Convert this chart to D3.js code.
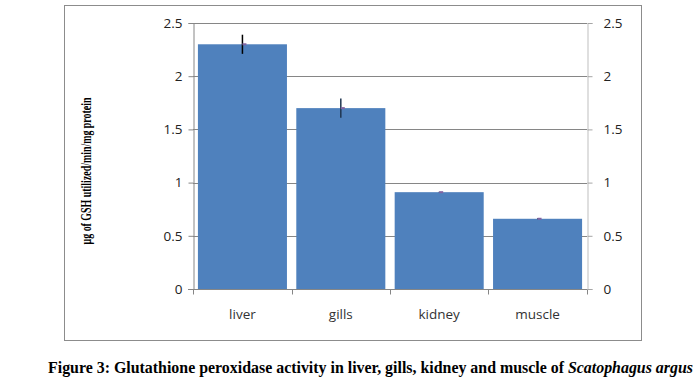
<!DOCTYPE html>
<html><head><meta charset="utf-8">
<script src="https://cdn.jsdelivr.net/npm/d3@7"></script>
<style>body{margin:0;background:#fff}svg{display:block}</style>
</head><body>
<svg id="c" width="699" height="390"></svg>
<script>
const categories = ["liver", "gills", "kidney", "muscle"];
const values = [2.30, 1.70, 0.91, 0.66];
const errors = [0.09, 0.09, 0.005, 0.005];
const yTicks = [0, 0.5, 1, 1.5, 2, 2.5];
const yTitle = "µg of GSH utilized/min/mg protein";
const caption1 = "Figure 3: Glutathione peroxidase activity in liver, gills, kidney and muscle of ";
const caption2 = "Scatophagus argus";

const svg = d3.select("#c");
const L = 193, R = 587, T = 23, B = 289;
const x = d3.scaleBand().domain(categories).range([L, R]).paddingInner(0.095).paddingOuter(0.05);
const y = d3.scaleLinear().domain([0, 2.5]).range([B, T]);

// outer frame
svg.append("rect").attr("x", 64.5).attr("y", 5.5).attr("width", 577).attr("height", 335)
  .attr("fill", "none").attr("stroke", "#8c8c8c").attr("stroke-width", 1);

// gridlines
svg.append("g").selectAll("line").data(yTicks.filter(d => d > 0)).join("line")
  .attr("x1", L).attr("x2", R).attr("y1", d => Math.round(y(d)) + 0.5).attr("y2", d => Math.round(y(d)) + 0.5)
  .attr("stroke", "#868686").attr("stroke-width", 1);

// bars
svg.append("g").selectAll("rect").data(categories).join("rect")
  .attr("x", d => x(d)).attr("width", x.bandwidth())
  .attr("y", (d, i) => y(values[i])).attr("height", (d, i) => B - y(values[i]))
  .attr("fill", "#4f81bd");

// left axis
const la = svg.append("g").attr("transform", `translate(${L + 0.5},0)`)
  .call(d3.axisLeft(y).tickValues(yTicks).tickSize(5).tickPadding(6).tickFormat(d3.format("")));
la.select(".domain").attr("stroke", "#868686");
la.selectAll(".tick line").attr("stroke", "#868686");
la.selectAll(".tick text").attr("fill", "#222").style("font-family", "Open Sans, sans-serif").style("font-size", "13.5px");

// right axis
const ra = svg.append("g").attr("transform", `translate(${R + 0.5},0)`)
  .call(d3.axisRight(y).tickValues(yTicks).tickSize(5).tickPadding(11).tickFormat(d3.format("")));
ra.select(".domain").attr("stroke", "#bfbfbf");
ra.selectAll(".tick line").attr("stroke", "#a6a6a6");
ra.selectAll(".tick text").attr("fill", "#222").style("font-family", "Open Sans, sans-serif").style("font-size", "13.5px");

// x axis
const xa = svg.append("g").attr("transform", `translate(0,${B + 0.5})`);
xa.append("line").attr("x1", L - 5).attr("x2", R).attr("stroke", "#868686");
const bounds = [L, ...categories.slice(1).map(c => x(c) - x.step() * x.paddingInner() / 2), R];
xa.selectAll("line.tk").data(bounds).join("line").attr("class", "tk")
  .attr("x1", d => Math.round(d) + 0.5).attr("x2", d => Math.round(d) + 0.5).attr("y1", 0).attr("y2", 5)
  .attr("stroke", "#868686");
xa.selectAll("text").data(categories).join("text")
  .attr("x", d => x(d) + x.bandwidth() / 2).attr("y", 29)
  .attr("text-anchor", "middle").attr("fill", "#333")
  .style("font-family", "Open Sans, sans-serif").style("font-size", "13.5px").text(d => d);

// error bars
const eg = svg.append("g");
categories.forEach((c, i) => {
  const cx = x(c) + x.bandwidth() / 2;
  eg.append("line").attr("x1", cx).attr("x2", cx)
    .attr("y1", y(values[i] + errors[i])).attr("y2", y(values[i] - errors[i]))
    .attr("stroke", i === 0 ? "#000" : "#1f3550").attr("stroke-width", i < 2 ? 1.5 : 1);
  eg.append("rect").attr("x", cx).attr("y", y(values[i]) - 1).attr("width", 4).attr("height", 2)
    .attr("fill", "#8064a2");
});

// y title
svg.append("text").attr("transform", `translate(91,${171}) rotate(-90)`)
  .attr("text-anchor", "middle").attr("fill", "#000")
  .attr("textLength", 147).attr("lengthAdjust", "spacingAndGlyphs")
  .style("font-family", "Liberation Serif, serif").style("font-size", "15px").style("font-weight", "bold")
  .text(yTitle);

// caption
const cap = svg.append("text").attr("x", 48).attr("y", 373).attr("fill", "#000")
  .attr("textLength", 645).attr("lengthAdjust", "spacingAndGlyphs")
  .style("font-family", "Liberation Serif, serif").style("font-size", "16px").style("font-weight", "bold");
cap.append("tspan").text(caption1);
cap.append("tspan").style("font-style", "italic").text(caption2);
</script>
</body></html>
